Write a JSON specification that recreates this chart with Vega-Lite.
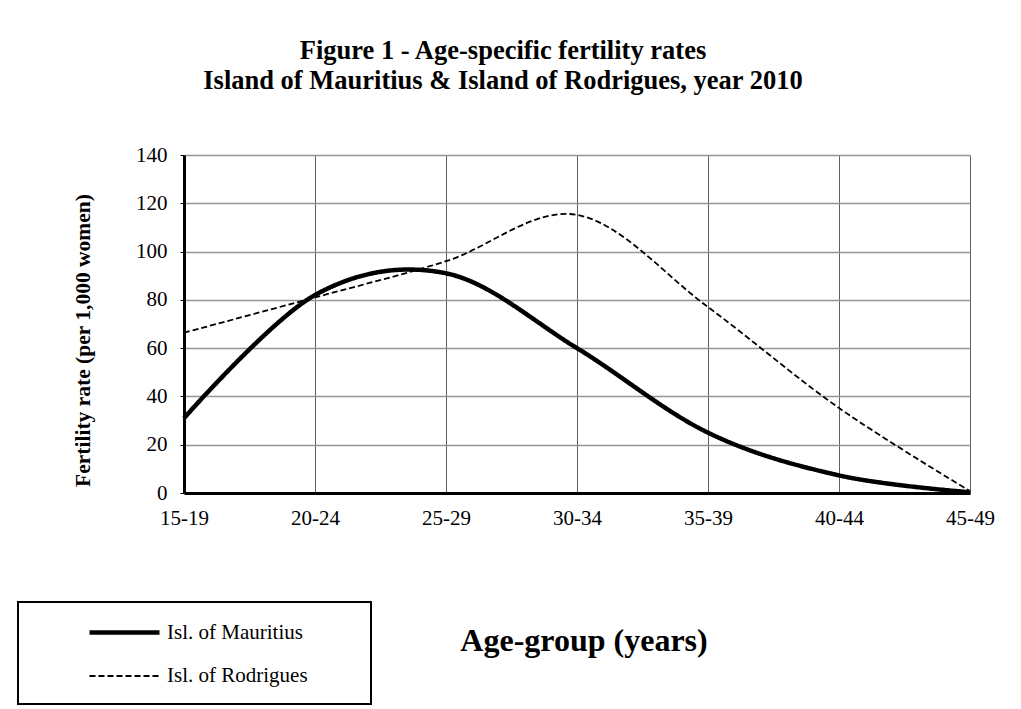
{
  "$schema": "https://vega.github.io/schema/vega-lite/v6.json",
  "width": 786,
  "height": 338,
  "autosize": {"type": "none"},
  "padding": {"left": 184, "top": 155, "right": 51, "bottom": 216},
  "background": "white",
  "config": {"view": {"stroke": null}, "legend": {"strokeWidth": 2}},
  "title": {
    "text": ["Figure 1 - Age-specific fertility rates", "Island of Mauritius & Island of Rodrigues, year 2010"],
    "font": "Liberation Serif",
    "fontSize": 26.5,
    "fontWeight": "bold",
    "color": "black",
    "anchor": "middle",
    "frame": "group",
    "dx": -74,
    "lineHeight": 30,
    "offset": 50
  },
  "data": {
    "values": [
      {"age": "15-19", "series": "Isl. of Mauritius", "rate": 31},
      {"age": "20-24", "series": "Isl. of Mauritius", "rate": 82},
      {"age": "25-29", "series": "Isl. of Mauritius", "rate": 91},
      {"age": "30-34", "series": "Isl. of Mauritius", "rate": 60},
      {"age": "35-39", "series": "Isl. of Mauritius", "rate": 25},
      {"age": "40-44", "series": "Isl. of Mauritius", "rate": 7.3},
      {"age": "45-49", "series": "Isl. of Mauritius", "rate": 0.3},
      {"age": "15-19", "series": "Isl. of Rodrigues", "rate": 66.4},
      {"age": "20-24", "series": "Isl. of Rodrigues", "rate": 81},
      {"age": "25-29", "series": "Isl. of Rodrigues", "rate": 96},
      {"age": "30-34", "series": "Isl. of Rodrigues", "rate": 115.2},
      {"age": "35-39", "series": "Isl. of Rodrigues", "rate": 77},
      {"age": "40-44", "series": "Isl. of Rodrigues", "rate": 35.2},
      {"age": "45-49", "series": "Isl. of Rodrigues", "rate": 0.8}
    ]
  },
  "mark": {"type": "line", "interpolate": "cardinal", "color": "black", "clip": false},
  "encoding": {
    "x": {
      "field": "age",
      "type": "ordinal",
      "scale": {"type": "point", "padding": 0},
      "axis": {
        "title": "Age-group (years)",
        "titleFont": "Liberation Serif",
        "titleFontSize": 32,
        "titleFontWeight": "bold",
        "titleColor": "black",
        "titleX": 399.5,
        "titleY": 157,
        "titleAlign": "center",
        "titleBaseline": "alphabetic",
        "labelFont": "Liberation Serif",
        "labelFontSize": 21,
        "labelColor": "black",
        "labelAngle": 0,
        "labelPadding": 14,
        "labelOverlap": false,
        "labelBound": false,
        "ticks": false,
        "domainColor": "black",
        "domainWidth": 3,
        "grid": true,
        "gridColor": "#606060",
        "gridWidth": 1
      }
    },
    "y": {
      "field": "rate",
      "type": "quantitative",
      "scale": {"domain": [0, 140], "nice": false},
      "axis": {
        "values": [0, 20, 40, 60, 80, 100, 120, 140],
        "title": "Fertility rate (per 1,000 women)",
        "titleFont": "Liberation Serif",
        "titleFontSize": 21.5,
        "titleFontWeight": "bold",
        "titleColor": "black",
        "titleX": -95,
        "titleY": 185,
        "titleAngle": -90,
        "titleAlign": "center",
        "titleBaseline": "alphabetic",
        "labelFont": "Liberation Serif",
        "labelFontSize": 21,
        "labelColor": "black",
        "labelPadding": 13,
        "tickSize": 4,
        "tickColor": "black",
        "domainColor": "black",
        "domainWidth": 3,
        "grid": true,
        "gridColor": "#959595",
        "gridWidth": 1.5
      }
    },
    "strokeDash": {
      "field": "series",
      "type": "nominal",
      "scale": {"domain": ["Isl. of Mauritius", "Isl. of Rodrigues"], "range": [[1, 0], [6, 3]]},
      "legend": {
        "title": null,
        "orient": "none",
        "legendX": -166,
        "legendY": 447,
        "symbolType": "M-6,0H1",
        "symbolSize": 400,
        "symbolStrokeColor": "black",
        "symbolFillColor": "transparent",
        "symbolOffset": 101,
        "labelOffset": 5,
        "labelFont": "Liberation Serif",
        "labelFontSize": 21,
        "labelColor": "black",
        "labelLimit": 0,
        "labelExpr": "datum.label + '\u2800\u2800\u2800'",
        "padding": 18,
        "rowPadding": 22,
        "strokeColor": "black",
        "fillColor": "white"
      }
    },
    "strokeWidth": {
      "field": "series",
      "type": "nominal",
      "scale": {"domain": ["Isl. of Mauritius", "Isl. of Rodrigues"], "range": [4.5, 1.8]},
      "legend": {
        "title": null,
        "orient": "none",
        "legendX": -166,
        "legendY": 447,
        "symbolType": "M-6,0H1",
        "symbolSize": 400,
        "symbolStrokeColor": "black",
        "symbolFillColor": "transparent",
        "symbolOffset": 101,
        "labelOffset": 5,
        "labelFont": "Liberation Serif",
        "labelFontSize": 21,
        "labelColor": "black",
        "labelLimit": 0,
        "labelExpr": "datum.label + '\u2800\u2800\u2800'",
        "padding": 18,
        "rowPadding": 22,
        "strokeColor": "black",
        "fillColor": "white"
      }
    }
  }
}
